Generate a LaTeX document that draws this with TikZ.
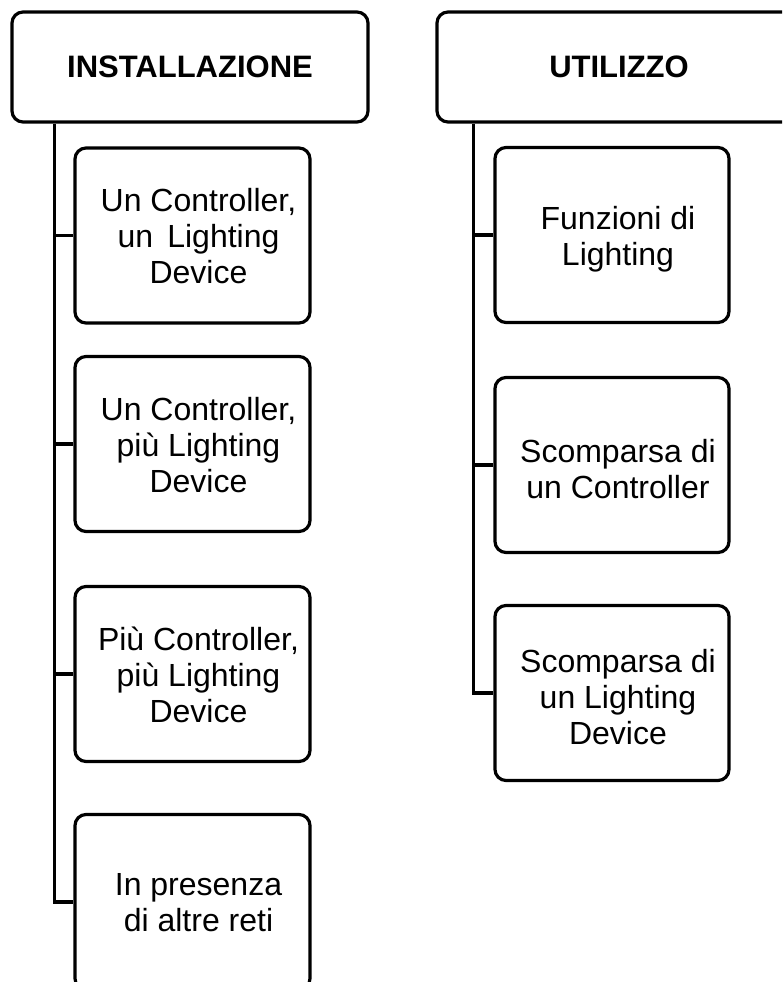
\documentclass[tikz,border=0pt]{standalone}
\usepackage{fontspec}
\setmainfont{Liberation Sans}
\begin{document}
\begin{tikzpicture}[x=1pt,y=-1pt,
  box/.style={draw, line width=3.2pt, rounded corners=11pt, fill=white, inner sep=0pt},
  head/.style={box, minimum height=110pt},
  item/.style={box, minimum width=235pt, minimum height=175pt},
  headtxt/.style={font=\bfseries\fontsize{31}{36}\selectfont},
  itemtxt/.style={font=\fontsize{32}{36}\selectfont, align=center, inner sep=0pt},
  link/.style={line width=3.2pt}]
\clip (0,0) rectangle (782,982);
\fill[white] (0,0) rectangle (782,982);

% column headers
\node[head, minimum width=356pt] (hdrL) at (190,67) {};
\node[headtxt] (hdrLt) at (hdrL.center) {INSTALLAZIONE};
\node[head, minimum width=364pt] (hdrR) at (619,67) {};
\node[headtxt] (hdrRt) at (hdrR.center) {UTILIZZO};

% trunk start points under the headers
\coordinate (tL) at ([xshift=44pt]hdrL.south west);
\coordinate (tR) at ([xshift=38pt]hdrR.south west);

% installation items
\node[item] (l1) at (192.5,235.5) {};
\node[item] (l2) at (192.5,444) {};
\node[item] (l3) at (192.5,674) {};
\node[item] (l4) at (192.5,902) {};

% usage items
\node[item, minimum width=234pt] (r1) at (612,235) {};
\node[item, minimum width=234pt] (r2) at (612,465) {};
\node[item, minimum width=234pt] (r3) at (612,693) {};

% connectors
\draw[link] (tL) |- (l4.west);
\foreach \n in {l1,l2,l3} \draw[link] (\n.west -| tL) -- (\n.west);
\draw[link] (tR) |- (r3.west);
\foreach \n in {r1,r2} \draw[link] (\n.west -| tR) -- (\n.west);

% item labels
\node[itemtxt] (l1t) at ([xshift=6pt,yshift=-1pt]l1.center) {Un Controller,\\un\, Lighting\\Device};
\node[itemtxt] (l2t) at ([xshift=6pt,yshift=-1pt]l2.center) {Un Controller,\\più Lighting\\Device};
\node[itemtxt] (l3t) at ([xshift=6pt,yshift=-1pt]l3.center) {Più Controller,\\più Lighting\\Device};
\node[itemtxt] (l4t) at ([xshift=6pt,yshift=-1pt]l4.center) {In presenza\\di altre reti};
\node[itemtxt] (r1t) at ([xshift=6pt,yshift=-4pt]r1.center) {Funzioni di\\Lighting};
\node[itemtxt] (r2t) at ([xshift=6pt,yshift=-4pt]r2.center) {Scomparsa di\\un Controller};
\node[itemtxt] (r3t) at ([xshift=6pt,yshift=-4pt]r3.center) {Scomparsa di\\un Lighting\\Device};
\end{tikzpicture}
\end{document}
